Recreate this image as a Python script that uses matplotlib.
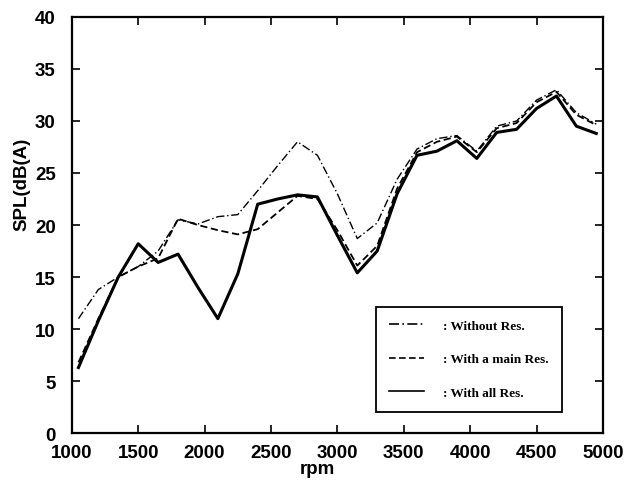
import numpy as np
import matplotlib
matplotlib.use('Agg')
from matplotlib import pyplot as plt

rpm = [1050, 1200, 1350, 1500, 1650, 1800, 1950, 2100, 2250, 2400, 2550, 2700, 2850,
       3000, 3150, 3300, 3450, 3600, 3750, 3900, 4050, 4200, 4350, 4500, 4650, 4800, 4950]

without_res = [11.0, 13.8, 15.0, 16.0, 17.5, 20.5, 20.1, 20.8, 21.0, 23.3, 25.7, 28.0, 26.7,
               23.0, 18.7, 20.2, 24.4, 27.3, 28.3, 28.6, 27.1, 29.5, 30.0, 32.0, 33.0, 30.8, 29.7]
main_res = [6.8, 11.0, 15.0, 16.0, 16.8, 20.6, 20.0, 19.5, 19.1, 19.6, 21.2, 22.8, 22.5,
            19.5, 16.1, 18.0, 23.5, 27.0, 28.0, 28.5, 27.0, 29.3, 29.8, 31.8, 32.8, 30.6, 29.6]
all_res = [6.3, 10.8, 15.0, 18.2, 16.4, 17.2, 14.0, 11.0, 15.3, 22.0, 22.5, 22.9, 22.7,
           19.0, 15.4, 17.5, 23.0, 26.7, 27.1, 28.1, 26.4, 28.9, 29.2, 31.2, 32.4, 29.5, 28.8]

labels = [': Without Res.', ': With a main Res.', ': With all Res.']

plt.rcParams['font.family'] = 'Liberation Sans'
plt.rcParams['font.weight'] = 'bold'

fig = plt.figure(figsize=(6.3, 4.85), dpi=100)
ax = fig.add_axes([0.114, 0.105, 0.843, 0.858])

ax.plot(rpm, without_res, color='black', lw=1.0, linestyle=(0, (6, 2, 1, 2)), label=labels[0])
ax.plot(rpm, main_res, color='black', lw=1.3, linestyle=(0, (4, 2)), label=labels[1])
ax.plot(rpm, all_res, color='black', lw=2.2, linestyle='-', label=labels[2])

ax.set_xlim(1000, 5000)
ax.set_ylim(0, 40)
ax.set_xticks(np.arange(1000, 5001, 500))
ax.set_yticks(np.arange(0, 41, 5))
ax.tick_params(direction='in', top=True, right=True, length=6, width=1.2,
               labelsize=13.5)
ax.tick_params(axis='x', pad=8)
ax.tick_params(axis='y', pad=11.5)
for lab in ax.get_xticklabels() + ax.get_yticklabels():
    lab.set_fontweight('bold')
for s in ax.spines.values():
    s.set_linewidth(1.6)

ax.set_xlabel('rpm', fontsize=13.5, fontweight='bold')
ax.set_ylabel('SPL(dB(A)', fontsize=13.5, fontweight='bold')
ax.xaxis.set_label_coords(0.463, -0.065)
ax.yaxis.set_label_coords(-0.077, 0.60)

leg = ax.legend(loc='upper left', bbox_to_anchor=(0.572, 0.304),
                prop={'family': 'Liberation Serif', 'weight': 'bold', 'size': 9.5},
                frameon=True, fancybox=False, edgecolor='black', framealpha=1,
                handlelength=2.7, handletextpad=1.4, labelspacing=1.6,
                borderpad=1.0, borderaxespad=0)
leg.get_frame().set_linewidth(1.3)
for line in leg.get_lines():
    line.set_linewidth(1.2)

fig.savefig('out.png', dpi=100)
